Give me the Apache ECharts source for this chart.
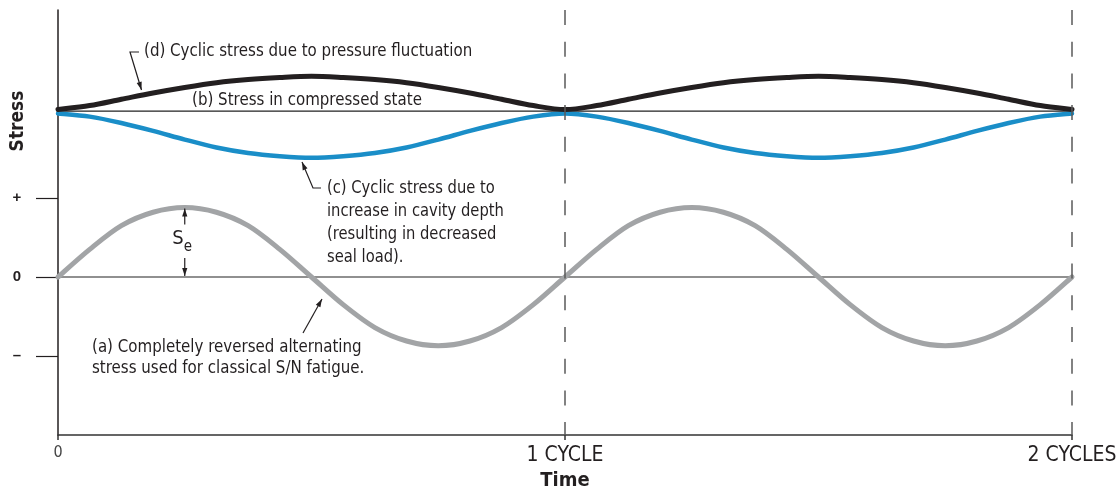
<!DOCTYPE html>
<html>
<head>
<meta charset="utf-8">
<script src="https://cdn.jsdelivr.net/npm/echarts@6/dist/echarts.min.js"></script>
<style>
  html, body { margin: 0; padding: 0; background: #ffffff; }
  #chart { width: 1117px; height: 494px; }
</style>
</head>
<body>
<div id="chart"></div>
<script>
// Time in cycles, sampled every 1/16 of a cycle
const timeCycles = [
  0, 0.0625, 0.125, 0.1875, 0.25, 0.3125, 0.375, 0.4375, 0.5,
  0.5625, 0.625, 0.6875, 0.75, 0.8125, 0.875, 0.9375, 1,
  1.0625, 1.125, 1.1875, 1.25, 1.3125, 1.375, 1.4375, 1.5,
  1.5625, 1.625, 1.6875, 1.75, 1.8125, 1.875, 1.9375, 2
];

// (a) completely reversed alternating stress
const alternatingStress = [
  0, 0.35, 0.65, 0.82, 0.88, 0.82, 0.65, 0.35, 0,
  -0.35, -0.64, -0.81, -0.87, -0.81, -0.64, -0.35, 0,
  0.35, 0.65, 0.82, 0.88, 0.82, 0.65, 0.35, 0,
  -0.35, -0.64, -0.81, -0.87, -0.81, -0.64, -0.35, 0
];

// (b) stress in compressed state (constant level)
const compressedTime = [0, 2];
const compressedStress = [2.1, 2.1];

// (c) cyclic stress due to increase in cavity depth
const cavityStress = [
  2.07, 2.03, 1.95, 1.85, 1.74, 1.64, 1.57, 1.53, 1.51,
  1.53, 1.57, 1.64, 1.74, 1.85, 1.95, 2.03, 2.07,
  2.03, 1.95, 1.85, 1.74, 1.64, 1.57, 1.53, 1.51,
  1.53, 1.57, 1.64, 1.74, 1.85, 1.95, 2.03, 2.07
];

// (d) cyclic stress due to pressure fluctuation
const pressureStress = [
  2.12, 2.17, 2.25, 2.33, 2.40, 2.46, 2.50, 2.525, 2.54,
  2.525, 2.50, 2.46, 2.40, 2.33, 2.25, 2.17, 2.12,
  2.17, 2.25, 2.33, 2.40, 2.46, 2.50, 2.525, 2.54,
  2.525, 2.50, 2.46, 2.40, 2.33, 2.25, 2.17, 2.12
];

const xTickValues = [0, 1, 2];
const xTickLabels = ['0', '1 CYCLE', '2 CYCLES'];
const yTickValues = [-1, 0, 1];
const yTickLabels = ['–', '0', '+'];
const cycleMarks = [1, 2];

const Y_MIN = -2;
const Y_MAX = 3.38;

const FONT = "'Liberation Sans Narrow', 'Arial Narrow', 'DejaVu Sans Condensed', 'Liberation Sans', sans-serif";
const INK = '#231f20';
const GRAY = '#a2a4a6';
const BLUE = '#1a8ec8';

const zip = (xs, ys) => xs.map((x, i) => [x, ys[i]]);

// Smooth curve through the sampled points (Catmull-Rom, drawn as cubic Béziers)
function curveSeries(name, values, color, width, z) {
  return {
    name,
    type: 'custom',
    z,
    silent: true,
    clip: false,
    data: zip(timeCycles, values),
    renderItem(params, api) {
      if (params.dataIndex !== 0) return null;
      const pts = timeCycles.map((t, i) => api.coord([t, values[i]]));
      const n = pts.length;
      let d = 'M' + pts[0][0] + ',' + pts[0][1];
      for (let i = 0; i < n - 1; i++) {
        const p0 = pts[Math.max(i - 1, 0)];
        const p1 = pts[i];
        const p2 = pts[i + 1];
        const p3 = pts[Math.min(i + 2, n - 1)];
        const c1x = p1[0] + (p2[0] - p0[0]) / 6, c1y = p1[1] + (p2[1] - p0[1]) / 6;
        const c2x = p2[0] - (p3[0] - p1[0]) / 6, c2y = p2[1] - (p3[1] - p1[1]) / 6;
        d += ' C' + c1x + ',' + c1y + ' ' + c2x + ',' + c2y + ' ' + p2[0] + ',' + p2[1];
      }
      return {
        type: 'path',
        shape: { pathData: d },
        style: { fill: 'none', stroke: color, lineWidth: width, lineCap: 'round', lineJoin: 'round' }
      };
    }
  };
}

const chart = echarts.init(document.getElementById('chart'), null, { renderer: 'canvas' });

chart.setOption({
  animation: false,
  backgroundColor: '#ffffff',
  textStyle: { fontFamily: FONT },
  grid: { left: 58, right: 45, top: 10, bottom: 59, outerBoundsMode: 'none', containLabel: false },
  xAxis: {
    type: 'value',
    min: 0,
    max: 2,
    interval: 1,
    name: 'Time',
    nameLocation: 'middle',
    nameGap: 31,
    nameTextStyle: { fontFamily: FONT, fontWeight: 'bold', fontSize: 20, color: INK },
    axisLine: { show: true, onZero: false, lineStyle: { color: '#333333', width: 1.5 } },
    axisTick: { show: true, inside: false, length: 5, lineStyle: { color: '#333333', width: 1.5 } },
    axisLabel: {
      margin: 10,
      formatter: v => {
        const i = xTickValues.indexOf(v);
        if (i < 0) return '';
        return i === 0 ? '{z|' + xTickLabels[i] + '}' : '{c|' + xTickLabels[i] + '}';
      },
      rich: {
        z: { fontFamily: FONT, fontSize: 16, color: '#444444' },
        c: { fontFamily: FONT, fontSize: 21, color: INK }
      }
    },
    splitLine: { show: false }
  },
  yAxis: {
    type: 'value',
    min: Y_MIN,
    max: Y_MAX,
    axisLine: { show: true, onZero: false, lineStyle: { color: INK, width: 1.5 } },
    axisTick: {
      show: true,
      length: 22,
      customValues: yTickValues,
      lineStyle: { color: INK, width: 1.2 }
    },
    axisLabel: {
      customValues: yTickValues,
      margin: 41,
      align: 'center',
      fontFamily: "'Liberation Sans', sans-serif",
      fontWeight: 'bold',
      fontSize: 15,
      color: INK,
      formatter: v => {
        const i = yTickValues.indexOf(v);
        return i < 0 ? '' : yTickLabels[i];
      }
    },
    splitLine: { show: false }
  },
  series: [
    {
      // zero stress line
      type: 'line',
      data: [[0, 0], [2, 0]],
      symbol: 'none',
      silent: true,
      lineStyle: { color: '#222222', width: 1.1 },
      z: 1
    },
    {
      name: '(b)',
      type: 'line',
      data: zip(compressedTime, compressedStress),
      symbol: 'none',
      silent: true,
      lineStyle: { color: '#222222', width: 1.1 },
      z: 1,
      markLine: {
        silent: true,
        symbol: 'none',
        label: { show: false },
        lineStyle: { color: '#5a5a5a', width: 1.5, type: [15, 16.7] },
        data: cycleMarks.map(c => [{ coord: [c, Y_MAX] }, { coord: [c, Y_MIN] }])
      }
    },
    curveSeries('(a)', alternatingStress, GRAY, 5, 2),
    curveSeries('(c)', cavityStress, BLUE, 4.5, 3),
    curveSeries('(d)', pressureStress, INK, 5, 4)
  ]
});

// ---- annotations: notes, leader lines and the S_e dimension arrows ----
function arrowHead(tip, from, len, half) {
  const dx = tip[0] - from[0], dy = tip[1] - from[1];
  const d = Math.hypot(dx, dy) || 1;
  const ux = dx / d, uy = dy / d;
  const bx = tip[0] - ux * len, by = tip[1] - uy * len;
  return {
    type: 'polygon',
    silent: true,
    z: 20,
    shape: { points: [tip, [bx - uy * half, by + ux * half], [bx + uy * half, by - ux * half]] },
    style: { fill: INK }
  };
}

function leader(points) {
  const tip = points[points.length - 1];
  const prev = points[points.length - 2];
  return [
    { type: 'polyline', silent: true, z: 20, shape: { points }, style: { stroke: INK, lineWidth: 1.2, fill: null } },
    arrowHead(tip, prev, 8, 2.6)
  ];
}

function note(x, y, text, squeeze, lineHeight) {
  return {
    type: 'text',
    silent: true,
    z: 20,
    x, y,
    scaleX: squeeze,
    style: {
      text,
      fontFamily: FONT,
      fontSize: 18,
      fill: INK,
      lineHeight: lineHeight || 22,
      align: 'left',
      verticalAlign: 'top'
    }
  };
}

const px = p => chart.convertToPixel({ gridIndex: 0 }, p);
const peak = px([0.25, alternatingStress[4]]);
const zero = px([0.25, 0]);
const sx = peak[0];

const graphics = [
  // axis title for stress
  {
    type: 'text', silent: true, x: 18, y: 121, rotation: Math.PI / 2,
    style: { text: 'Stress', fontFamily: FONT, fontWeight: 'bold', fontSize: 19, fill: INK, align: 'center', verticalAlign: 'middle' }
  },
  // (d)
  note(144, 40, '(d) Cyclic stress due to pressure fluctuation', 0.93),
  ...leader([[139, 52], [130, 52], [141.5, 90]]),
  // (b)
  note(192, 89, '(b) Stress in compressed state', 0.93),
  // (c)
  note(327, 177, '(c) Cyclic stress due to\nincrease in cavity depth\n(resulting in decreased\nseal load).', 0.91, 23),
  ...leader([[321, 188], [313, 188], [302, 162]]),
  // (a)
  note(92, 337, '(a) Completely reversed alternating\nstress used for classical S/N fatigue.', 0.93, 21),
  ...leader([[303, 333], [322, 299]]),
  // S_e dimension arrows between the peak of (a) and zero
  ...leader([[sx, peak[1] + 17], [sx, peak[1] + 1]]),
  ...leader([[sx, zero[1] - 19], [sx, zero[1] - 1]]),
  { type: 'text', silent: true, z: 20, x: sx - 1, y: 239, style: { text: 'S', fontFamily: FONT, fontSize: 20, fill: INK, align: 'right', verticalAlign: 'middle' } },
  { type: 'text', silent: true, z: 20, x: sx - 1, y: 247, style: { text: 'e', fontFamily: FONT, fontSize: 15, fill: INK, align: 'left', verticalAlign: 'middle' } }
];

chart.setOption({ graphic: graphics });
</script>
</body>
</html>
